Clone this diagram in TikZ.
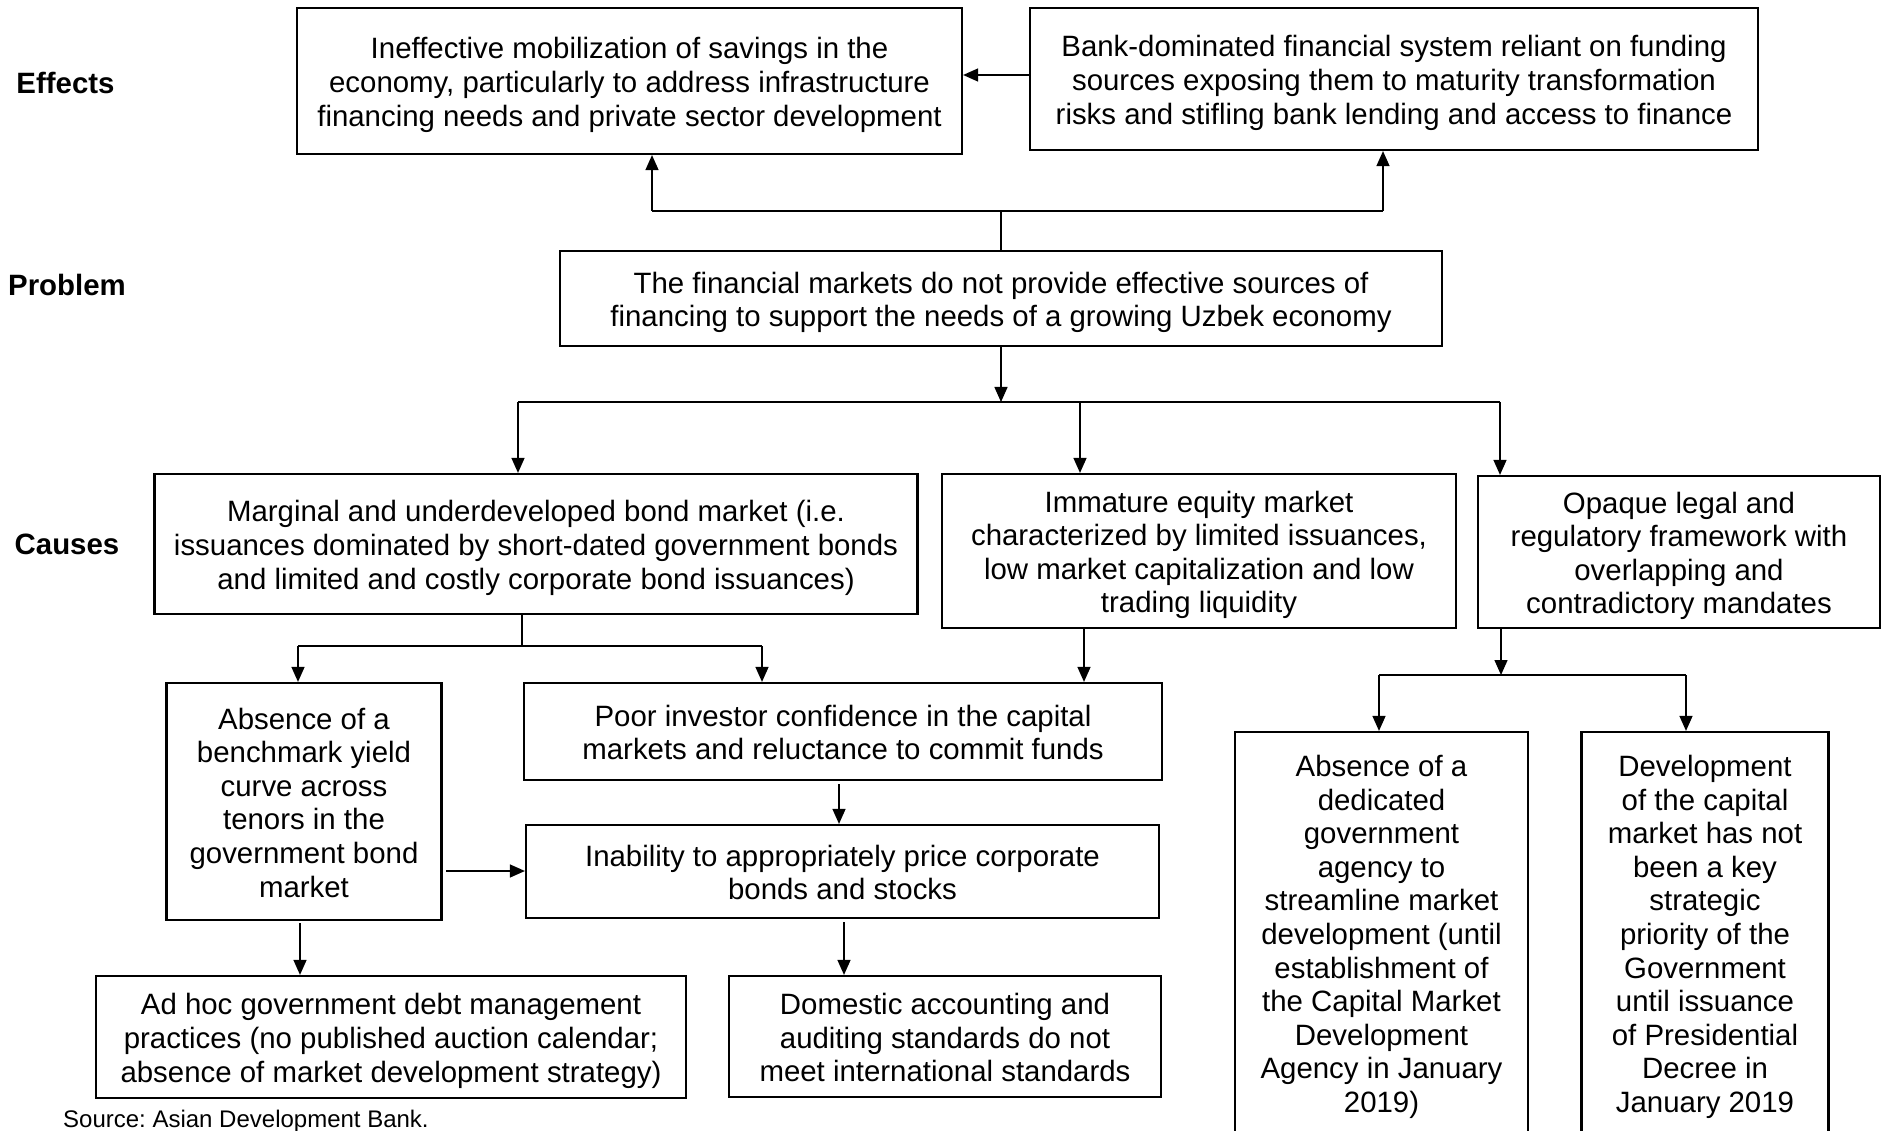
\documentclass[tikz,border=0pt]{standalone}
\usepackage{fontspec}
\setmainfont{Liberation Sans}
\usetikzlibrary{arrows.meta}
\newcommand\topstrut{\rule{0pt}{30pt}}
\newcommand\botstrut{\rule[-7pt]{0pt}{7pt}}
\begin{document}
\frenchspacing
\begin{tikzpicture}[x=1pt,y=-1pt,
  box/.style={draw, line width=2.2pt, inner sep=0pt, align=center, font=\fontsize{29.4}{33.6}\selectfont,
    execute at end node=\botstrut},
  lab/.style={font=\fontsize{29.4}{33.6}\selectfont\bfseries},
  arr/.style={line width=1.4pt, -{Triangle[length=15pt,width=13pt]}},
  stem/.style={line width=1.4pt},
  bus/.style={line width=2.2pt}]
\useasboundingbox (0,0) rectangle (1883,1131);
\fill[white] (0,0) rectangle (1883,1131);

% row labels
\node[lab] (leff) at (65.5,83) {Effects};
\node[lab] (lprob) at (67,285) {Problem};
\node[lab] (lcau) at (67,544) {Causes};

% effects
\node[box, minimum width=665pt, minimum height=146pt] (e1) at (629.5,81)
 {\topstrut Ineffective mobilization of savings in the\\economy, particularly to address infrastructure\\financing needs and private sector development};
\node[box, minimum width=728pt, minimum height=142pt] (e2) at (1394,79)
 {\topstrut Bank-dominated financial system reliant on funding\\sources exposing them to maturity transformation\\risks and stifling bank lending and access to finance};

% problem
\node[box, minimum width=882pt, minimum height=95pt] (prob) at (1001,298.5)
 {\topstrut The financial markets do not provide effective sources of\\financing to support the needs of a growing Uzbek economy};

% causes
\node[box, minimum width=763pt, minimum height=140pt] (bond) at (536,544)
 {\topstrut Marginal and underdeveloped bond market (i.e.\\issuances dominated by short-dated government bonds\\and limited and costly corporate bond issuances)};
\node[box, minimum width=514pt, minimum height=154pt] (equity) at (1199,551)
 {\topstrut Immature equity market\\characterized by limited issuances,\\low market capitalization and low\\trading liquidity};
\node[box, minimum width=402pt, minimum height=152pt] (reg) at (1679,552)
 {\topstrut Opaque legal and\\regulatory framework with\\overlapping and\\contradictory mandates};

\node[box, minimum width=275pt, minimum height=237pt] (bench) at (304,801.5)
 {\topstrut Absence of a\\benchmark yield\\curve across\\tenors in the\\government bond\\market};
\node[box, minimum width=638pt, minimum height=97pt] (poor) at (843,731.5)
 {\topstrut Poor investor confidence in the capital\\markets and reluctance to commit funds};
\node[box, minimum width=633pt, minimum height=93pt] (inab) at (842.5,871.5)
 {\topstrut Inability to appropriately price corporate\\bonds and stocks};
\node[box, minimum width=590pt, minimum height=122pt] (adhoc) at (391,1037)
 {\topstrut Ad hoc government debt management\\practices (no published auction calendar;\\absence of market development strategy)};
\node[box, minimum width=432pt, minimum height=121pt] (dom) at (945,1036.5)
 {\topstrut Domestic accounting and\\auditing standards do not\\meet international standards};

\node[box, minimum width=293pt, minimum height=402pt] (agency) at (1381.5,933)
 {\topstrut Absence of a\\dedicated\\government\\agency to\\streamline market\\development (until\\establishment of\\the Capital Market\\Development\\Agency in January\\2019)};
\node[box, minimum width=247pt, minimum height=402pt] (devel) at (1705,933)
 {\topstrut Development\\of the capital\\market has not\\been a key\\strategic\\priority of the\\Government\\until issuance\\of Presidential\\Decree in\\January 2019};

\node[anchor=base west, inner sep=0pt, font=\fontsize{24}{28}\selectfont] (src) at (63,1127) {Source: Asian Development Bank.};

% effects connectors
\draw[arr] ([yshift=4pt]e2.west) -- ([yshift=4pt]e2.west -| e1.east);
\coordinate (tbM) at (1001,211);
\coordinate (tbL) at (652,211);
\coordinate (tbR) at (1383,211);
\draw[stem] (prob.north) -- (tbM);
\draw[bus] (tbL) -- (tbR);
\draw[arr] (tbL) -- (tbL |- e1.south);
\draw[arr] (tbR) -- (tbR |- e2.south);

% problem to causes
\coordinate (cbM) at (1001,402);
\coordinate (cbL) at (518,402);
\coordinate (cbC) at (1080,402);
\coordinate (cbR) at (1500,402);
\draw[arr] (prob.south) -- (cbM);
\draw[bus] (cbL) -- (cbR);
\draw[arr] (cbL) -- (cbL |- bond.north);
\draw[arr] (cbC) -- (cbC |- equity.north);
\draw[arr] (cbR) -- (cbR |- reg.north);

% bond to children
\coordinate (bbM) at (522,646);
\coordinate (bbL) at (298,646);
\coordinate (bbR) at (762,646);
\draw[stem] (bbM |- bond.south) -- (bbM);
\draw[bus] (bbL) -- (bbR);
\draw[arr] (bbL) -- (bbL |- bench.north);
\draw[arr] (bbR) -- (bbR |- poor.north);

% equity to poor
\coordinate (eqx) at (1084,640);
\draw[arr] (eqx |- equity.south) -- (eqx |- poor.north);

% regulatory to children
\coordinate (rbM) at (1501,675);
\coordinate (rbL) at (1379,675);
\coordinate (rbR) at (1686,675);
\draw[arr] (rbM |- reg.south) -- (rbM);
\draw[bus] (rbL) -- (rbR);
\draw[arr] (rbL) -- (rbL |- agency.north);
\draw[arr] (rbR) -- (rbR |- devel.north);

% lower chain
\coordinate (px) at (839,800);
\draw[arr] ([yshift=-3pt]px |- poor.south) -- (px |- inab.north);
\coordinate (by) at (446,871);
\draw[arr] (by) -- (by -| inab.west);
\coordinate (bx) at (300,950);
\draw[arr] ([yshift=-2pt]bx |- bench.south) -- (bx |- adhoc.north);
\coordinate (ix) at (844,950);
\draw[arr] ([yshift=-3pt]ix |- inab.south) -- (ix |- dom.north);
\end{tikzpicture}
\end{document}
